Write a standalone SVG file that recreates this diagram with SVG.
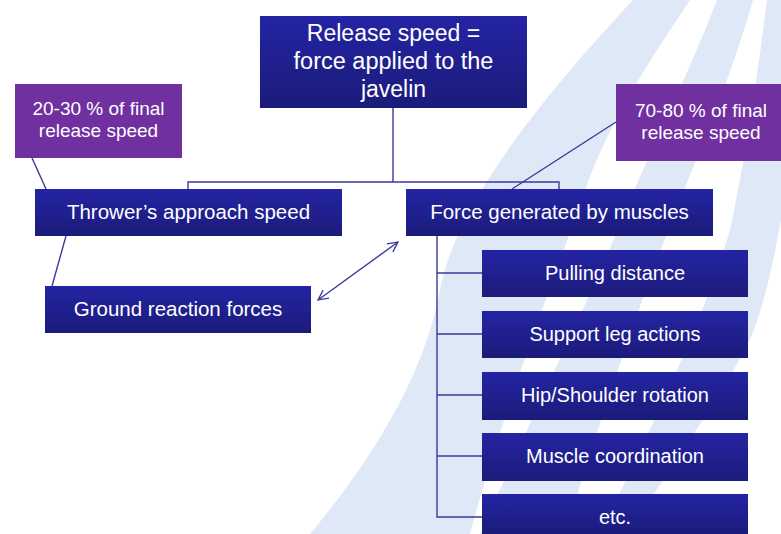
<svg xmlns="http://www.w3.org/2000/svg" width="781" height="534" viewBox="0 0 781 534">
<defs>
<linearGradient id="blue" x1="0" y1="0" x2="0" y2="1">
<stop offset="0" stop-color="#2424a4"/>
<stop offset="1" stop-color="#1b1b7a"/>
</linearGradient>
<marker id="arr" viewBox="0 0 12 12" refX="11" refY="6" markerWidth="12" markerHeight="12" markerUnits="userSpaceOnUse" orient="auto-start-reverse">
<path d="M1,1 L11,6 L1,11" fill="none" stroke="#3a3aa0" stroke-width="1.3"/>
</marker>
<style>
.box{fill:url(#blue)}
.pbox{fill:#7030a0}
.t{font-family:"Liberation Sans",Arial,sans-serif;fill:#ffffff;text-anchor:middle}
.c{fill:none;stroke:#3a3a9a;stroke-width:1.4}
.bg{fill:#dfe8f6}
</style>
</defs>
<rect width="781" height="534" fill="#ffffff"/>
<g id="background">
<path class="bg" d="M633,0 L690,0 C650,60 610,120 585,190 C550,290 500,420 470,534 L310,534 C380,450 425,370 440,290 C455,210 530,110 633,0 Z"/>
<path class="bg" d="M717,0 L753,0 C730,80 700,150 680,200 C640,300 600,420 565,534 L480,534 C530,420 590,300 630,200 C660,130 690,70 717,0 Z"/>
<path class="bg" d="M767,0 L781,0 L781,220 C770,280 760,320 745,350 C700,430 660,480 630,534 L600,534 C650,430 700,330 730,230 C745,160 757,80 767,0 Z"/>
</g>
<g id="connectors">
<line class="c" x1="393" y1="108" x2="393" y2="182"/>
<polyline class="c" points="188,189 188,182 559,182 559,189" stroke="#7878b8" stroke-width="2"/>
<line class="c" x1="32" y1="158" x2="46" y2="189"/>
<line class="c" x1="66" y1="236" x2="52" y2="286"/>
<line class="c" x1="616" y1="122" x2="512" y2="189"/>
<line class="c" x1="318" y1="300" x2="398" y2="242" marker-start="url(#arr)" marker-end="url(#arr)"/>
<polyline class="c" points="437,236 437,517 482,517"/>
<line class="c" x1="437" y1="273" x2="482" y2="273"/>
<line class="c" x1="437" y1="334" x2="482" y2="334"/>
<line class="c" x1="437" y1="395" x2="482" y2="395"/>
<line class="c" x1="437" y1="456" x2="482" y2="456"/>
</g>
<g id="release">
<rect class="box" x="260" y="16" width="267" height="92"/>
<text class="t" font-size="23" x="393.5" y="41">Release speed =</text>
<text class="t" font-size="23.5" x="393.5" y="69">force applied to the</text>
<text class="t" font-size="23" x="393.5" y="97">javelin</text>
</g>
<g id="pct2030">
<rect class="pbox" x="15" y="84" width="167" height="74"/>
<text class="t" font-size="19" x="98.5" y="115">20-30 % of final</text>
<text class="t" font-size="19" x="98.5" y="137">release speed</text>
</g>
<g id="pct7080">
<rect class="pbox" x="616" y="84" width="165" height="77"/>
<text class="t" font-size="19" x="701" y="117">70-80 % of final</text>
<text class="t" font-size="19" x="701" y="139">release speed</text>
</g>
<g id="approach">
<rect class="box" x="35" y="189" width="307" height="47"/>
<text class="t" font-size="20.5" x="188.5" y="219">Thrower’s approach speed</text>
</g>
<g id="muscles">
<rect class="box" x="406" y="189" width="307" height="47"/>
<text class="t" font-size="20.5" x="559.5" y="219">Force generated by muscles</text>
</g>
<g id="ground">
<rect class="box" x="45" y="286" width="266" height="47"/>
<text class="t" font-size="20.5" x="178" y="316">Ground reaction forces</text>
</g>
<g id="pulling">
<rect class="box" x="482" y="250" width="266" height="47"/>
<text class="t" font-size="20" x="615" y="280">Pulling distance</text>
</g>
<g id="support">
<rect class="box" x="482" y="311" width="266" height="47"/>
<text class="t" font-size="20" x="615" y="341">Support leg actions</text>
</g>
<g id="hip">
<rect class="box" x="482" y="372" width="266" height="48"/>
<text class="t" font-size="20" x="615" y="402">Hip/Shoulder rotation</text>
</g>
<g id="coordination">
<rect class="box" x="482" y="433" width="266" height="48"/>
<text class="t" font-size="20" x="615" y="463">Muscle coordination</text>
</g>
<g id="etc">
<rect class="box" x="482" y="494" width="266" height="40"/>
<text class="t" font-size="20" x="615" y="524">etc.</text>
</g>
</svg>
